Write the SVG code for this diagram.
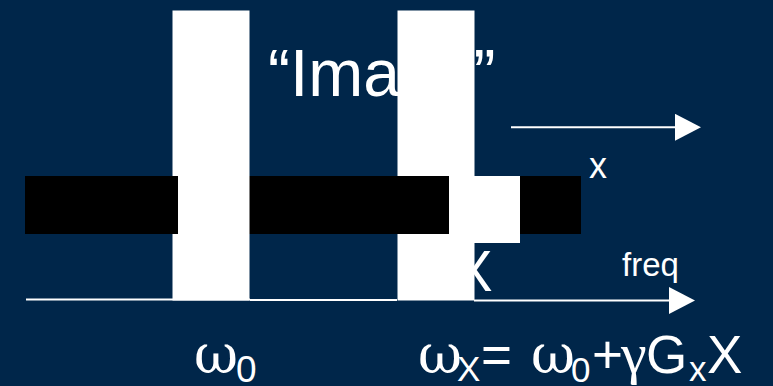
<svg xmlns="http://www.w3.org/2000/svg" width="773" height="386" viewBox="0 0 773 386">
<style>
.sans{font-family:"Liberation Sans",Arial,sans-serif;fill:#fff}
.serif{font-family:"DejaVu Serif","Liberation Serif",serif;fill:#fff}
.times{font-family:"Liberation Serif","Times New Roman",serif;fill:#fff}
.w{fill:#fff}
.k{fill:#000}
.ln{stroke:#fff;stroke-width:2;fill:none}
</style>
<defs>
<marker id="ah" markerUnits="userSpaceOnUse" markerWidth="26" markerHeight="27" refX="0" refY="13.5" orient="auto">
<path d="M0,0 L26,13.5 L0,27 Z" fill="#fff"/>
</marker>
</defs>
<rect width="773" height="386" fill="#00264A"/>
<g id="title"><text class="sans" x="268" y="95.5" font-size="66">“Image”</text></g>
<g id="labelX"><text class="sans" x="454" y="291" font-size="58">X</text></g>
<g id="bar1"><rect class="w" x="172.5" y="10.5" width="77" height="290"/></g>
<g id="bar2"><rect class="w" x="397.5" y="10.5" width="77" height="290"/></g>
<g id="band"><rect class="k" x="25" y="176" width="556" height="58"/></g>
<g id="sq1"><rect class="w" x="178" y="176" width="71.5" height="58"/></g>
<g id="sq2"><rect class="w" x="449" y="176" width="71" height="67"/></g>
<g id="connectors">
<line class="ln" x1="511" y1="127.3" x2="675" y2="127.3" marker-end="url(#ah)"/>
<line class="ln" x1="26" y1="299.5" x2="250" y2="299.5"/>
<line class="ln" x1="250" y1="300" x2="397" y2="300"/>
<line class="ln" x1="474" y1="300.5" x2="669" y2="300.5" marker-end="url(#ah)"/>
</g>
<g id="labelx"><text class="sans" x="589" y="178" font-size="36">x</text></g>
<g id="labelfreq"><text class="sans" x="622" y="276" font-size="33">freq</text></g>
<g id="omega0">
<text class="serif" x="194" y="373" font-size="54">ω</text>
<text class="sans" x="236" y="382" font-size="37">0</text>
</g>
<g id="formula">
<text class="serif" x="418" y="373" font-size="54">ω</text>
<text class="sans" x="457" y="381" font-size="35">X</text>
<text class="sans" x="481" y="373" font-size="53">=</text>
<text class="serif" x="531" y="373" font-size="54">ω</text>
<text class="sans" x="571" y="382" font-size="35">0</text>
<text class="sans" x="592" y="373" font-size="53">+</text>
<text class="times" x="621" y="373" font-size="58">γ</text>
<text class="sans" x="646" y="373" font-size="53">G</text>
<text class="sans" x="689" y="381" font-size="35">x</text>
<text class="sans" x="707" y="373" font-size="53">X</text>
</g>
</svg>
